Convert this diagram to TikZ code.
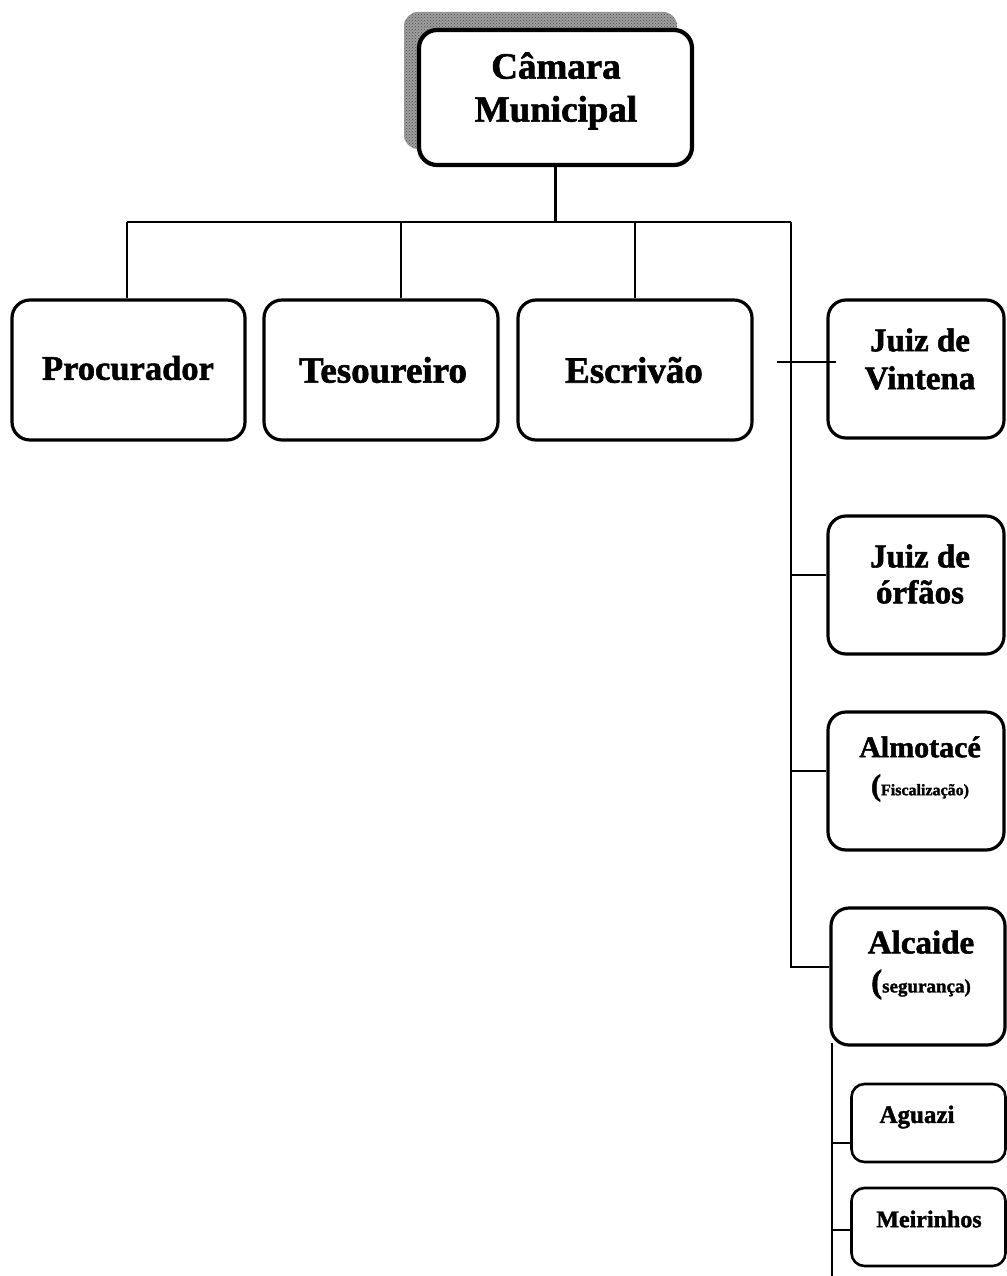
\documentclass[tikz,border=0pt]{standalone}
\usepackage{fontspec}
\setmainfont[BoldFeatures={FakeBold=1.6}]{Liberation Serif}
\usetikzlibrary{patterns}
\begin{document}
\begin{tikzpicture}[x=1pt,y=-1pt,
  box/.style={draw, line width=3.2pt, rounded corners=18pt, inner sep=0pt, fill=white},
  smallbox/.style={draw, line width=2.6pt, rounded corners=13pt, inner sep=0pt, fill=white},
  conn/.style={line width=2.1pt},
  lbl/.style={font=\bfseries, align=center, inner sep=0pt}]
\useasboundingbox (0,0) rectangle (1006,1276);
% shadow
\fill[black!38, rounded corners=14pt] (404,12) rectangle (677,149);
\fill[pattern=crosshatch dots, pattern color=black!70, rounded corners=14pt] (404,12) rectangle (677,149);
% top box
\node[box, line width=4.2pt, minimum width=273pt, minimum height=135pt] (cam) at (555.5,97.5) {};
\node[lbl, align=center, font=\bfseries\fontsize{37}{43}\selectfont] (camt) at (556,91) {Câmara\\Municipal};
% second row
\node[box, minimum width=233pt, minimum height=140pt] (proc) at (128.5,370) {};
\node[lbl, font=\bfseries\fontsize{34.5}{40}\selectfont] (proct) at (128,368) {Procurador};
\node[box, minimum width=234pt, minimum height=140pt] (tes) at (381,370) {};
\node[lbl, font=\bfseries\fontsize{37}{40}\selectfont] (test) at (383,370) {Tesoureiro};
\node[box, minimum width=234pt, minimum height=140pt] (esc) at (635,370) {};
\node[lbl, font=\bfseries\fontsize{37}{40}\selectfont] (esct) at (634,370) {Escrivão};
% right column
\node[box, minimum width=176pt, minimum height=138pt] (jv) at (916,369) {};
\node[lbl, font=\bfseries\fontsize{33}{38}\selectfont] (jvt) at (920,359) {Juiz de\\Vintena};
\node[box, minimum width=176pt, minimum height=138pt] (jo) at (916,585) {};
\node[lbl, font=\bfseries\fontsize{33}{36}\selectfont] (jot) at (920,574) {Juiz de\\órfãos};
\node[box, minimum width=176pt, minimum height=138pt] (alm) at (916,781) {};
\node[lbl, font=\bfseries\fontsize{30}{38}\selectfont] (almt) at (920,769) {Almotacé\\({\fontsize{16}{16}\selectfont Fiscalização)}};
\node[box, minimum width=174pt, minimum height=137pt] (alc) at (918,976.5) {};
\node[lbl, font=\bfseries\fontsize{33}{39}\selectfont] (alct) at (921,965) {Alcaide\\({\fontsize{19}{19}\selectfont segurança)}};
\node[smallbox, minimum width=154pt, minimum height=78pt] (agu) at (928.5,1123) {};
\node[lbl, font=\bfseries\fontsize{25}{25}\selectfont] (agut) at (917,1117) {Aguazi};
\node[smallbox, minimum width=154pt, minimum height=78pt] (mei) at (928.5,1227) {};
\node[lbl, font=\bfseries\fontsize{24}{24}\selectfont] (meit) at (929,1219) {Meirinhos};
% connectors
\coordinate (busL) at (127,222);
\coordinate (busR) at (791,222);
\coordinate (dt) at (401,222);
\coordinate (ac) at (791,967);
\coordinate (jvs) at (777,362);
\coordinate (sub) at (832,1276);
\draw[conn] (cam.south) -- (cam.south |- busL);
\draw[conn] (busL) -- (busR);
\draw[conn] (busL) -- (busL |- proc.north);
\draw[conn] (dt) -- (dt |- tes.north);
\draw[conn] (esc.north |- busL) -- (esc.north);
\draw[conn] (busR) -- (ac) -- (ac -| alc.west);
\draw[conn] (jvs) -- ([xshift=10pt]jvs -| jv.west);
\draw[conn] (791,575) -- (791,575 -| jo.west);
\draw[conn] (791,771) -- (791,771 -| alm.west);
\draw[conn] ([yshift=4pt]sub |- alc.south) -- (sub);
\draw[conn] (832,1143) -- (832,1143 -| agu.west);
\draw[conn] (832,1230) -- (832,1230 -| mei.west);
\end{tikzpicture}
\end{document}
